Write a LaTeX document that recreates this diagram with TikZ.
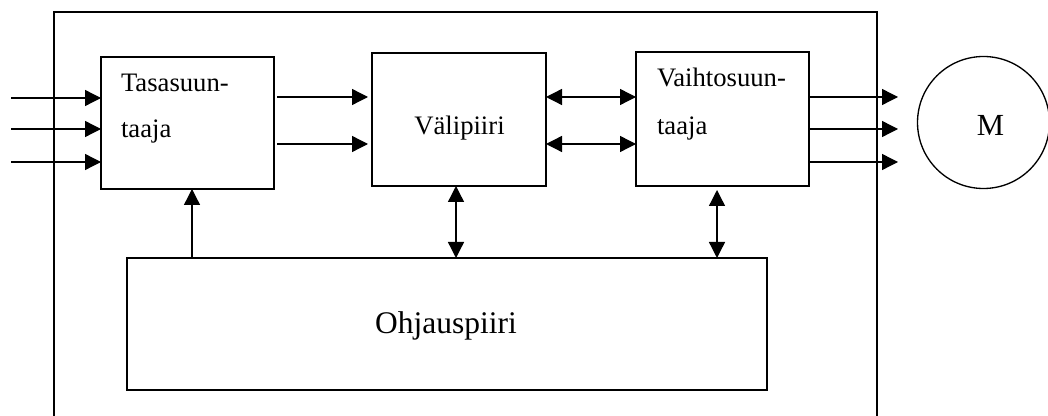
\documentclass[tikz,border=0pt]{standalone}
\usepackage{fontspec}
\setmainfont{Liberation Serif}
\usetikzlibrary{arrows.meta}
\begin{document}
\begin{tikzpicture}[x=0.75pt,y=-0.75pt,
  blk/.style={draw,line width=1pt,inner sep=0pt,outer sep=0pt},
  lbl/.style={inner sep=0pt,outer sep=0pt,font=\fontsize{20pt}{22pt}\selectfont},
  con/.style={line width=1pt,-{Triangle[length=12pt,width=12pt]}},
  bicon/.style={line width=1pt,{Triangle[length=12pt,width=12pt]}-{Triangle[length=12pt,width=12pt]}}]
\useasboundingbox (0,0) rectangle (1048,416);
% outer frame (open at the bottom)
\draw[line width=1pt] (54,416) -- (54,12) -- (877,12) -- (877,416);
% blocks
\node[blk,minimum width=129.75pt,minimum height=99pt] (tas) at (187.5,123) {};
\node[blk,minimum width=130.5pt,minimum height=99.75pt] (val) at (459,119.5) {};
\node[blk,minimum width=129.75pt,minimum height=100.5pt] (vai) at (722.5,119) {};
\node[blk,minimum width=480pt,minimum height=99pt] (ohj) at (447,324) {};
\node[blk,circle,minimum size=99pt] (mot) at (983.5,122.5) {};
% labels
\node[lbl,anchor=base west] (t1) at (121,92) {Tasasuun-};
\node[lbl,anchor=base west] (t2) at (121,138) {taaja};
\node[lbl,anchor=base] (t3) at (459.5,135) {Välipiiri};
\node[lbl,anchor=base west] (t4) at (657,87) {Vaihtosuun-};
\node[lbl,anchor=base west] (t5) at (657,135) {taaja};
\node[lbl,anchor=base,font=\fontsize{23.6pt}{26pt}\selectfont] (t6) at (446,334) {Ohjauspiiri};
\node[lbl,anchor=base,font=\fontsize{23pt}{25pt}\selectfont] (t7) at (990.5,136) {M};
% inputs
\coordinate (i1) at (11,98);
\coordinate (i2) at (11,129);
\coordinate (i3) at (11,162);
\foreach \i in {i1,i2,i3} \draw[con] (\i) -- (tas.west |- \i);
% rectifier -> intermediate circuit
\coordinate (a1) at (277,97);
\coordinate (a2) at (277,144);
\draw[con,shorten >=3pt] (a1) -- (val.west |- a1);
\draw[con,shorten >=3pt] (a2) -- (val.west |- a2);
% intermediate <-> inverter
\coordinate (b1) at (546,97);
\coordinate (b2) at (546,144);
\draw[bicon] (val.east |- b1) -- (vai.west |- b1);
\draw[bicon] (val.east |- b2) -- (vai.west |- b2);
% outputs
\coordinate (o1) at (898,97);
\coordinate (o2) at (898,129);
\coordinate (o3) at (898,162);
\foreach \o in {o1,o2,o3} \draw[con] (vai.east |- \o) -- (\o);
% control connections
\coordinate (c1) at (192,258);
\coordinate (c2) at (456,258);
\coordinate (c3) at (717,258);
\draw[con] (ohj.north -| c1) -- (tas.south -| c1);
\draw[bicon] (ohj.north -| c2) -- (val.south -| c2);
\draw[bicon,shorten >=3pt] (ohj.north -| c3) -- (vai.south -| c3);
\end{tikzpicture}
\end{document}
